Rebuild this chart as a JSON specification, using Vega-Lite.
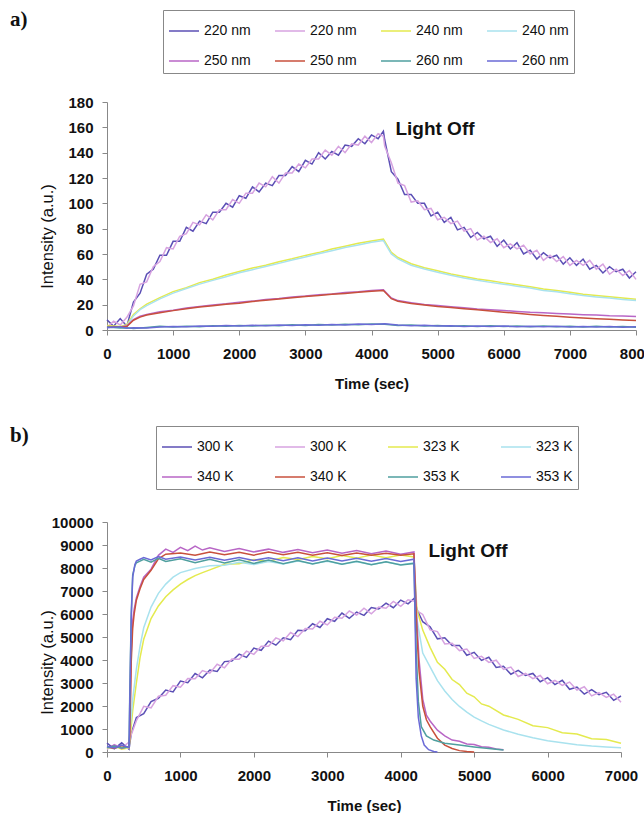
{
"$schema": "https://vega.github.io/schema/vega-lite/v6.json",
"background": "white",
"padding": {"left": 10, "top": 8, "right": 0, "bottom": 0},
"spacing": 33,
"resolve": {"scale": {"color": "independent"}, "legend": {"color": "independent"}},
"config": {
 "font": "Liberation Sans",
 "view": {"stroke": null},
 "axis": {"grid": false, "labelFont": "Liberation Sans", "labelFontSize": 15, "labelFontWeight": "bold", "labelColor": "#111", "labelOverlap": false, "labelFlush": false, "format": "d", "titleFont": "Liberation Sans", "titleColor": "#111", "titleFontSize": 15, "domainColor": "#888", "tickColor": "#888", "tickSize": 5, "labelPadding": 5},
 "axisX": {"titleFontWeight": "bold", "titlePadding": 15, "labelPadding": 11},
 "axisY": {"titleFontWeight": "normal", "titleFontSize": 16.5, "labelPadding": 9, "titleBaseline": "middle", "titleAlign": "center", "titleX": -60},
 "title": {"font": "Liberation Serif", "fontSize": 21, "fontWeight": "bold", "color": "#111", "anchor": "start", "frame": "group"},
 "legend": {"orient": "none", "columns": 4, "direction": "horizontal", "title": null, "symbolType": "stroke", "symbolSize": 900, "symbolStrokeWidth": 1.5, "labelFont": "Liberation Sans", "labelFontSize": 14, "labelColor": "#111", "labelOffset": 4, "rowPadding": 7, "padding": 5, "strokeColor": "#888", "fillColor": "white", "gridAlign": "all", "symbolLimit": 0}
},
"datasets": {
 "a": [
{"s":"220 nm","t":0,"v":8},{"s":"220 nm","t":100,"v":3},{"s":"220 nm","t":200,"v":9},{"s":"220 nm","t":300,"v":3},{"s":"220 nm","t":400,"v":22},{"s":"220 nm","t":500,"v":29},{"s":"220 nm","t":600,"v":44},{"s":"220 nm","t":700,"v":48},{"s":"220 nm","t":800,"v":59},{"s":"220 nm","t":900,"v":59},
{"s":"220 nm","t":1000,"v":70},{"s":"220 nm","t":1100,"v":70},{"s":"220 nm","t":1200,"v":81},{"s":"220 nm","t":1300,"v":78},{"s":"220 nm","t":1400,"v":86},{"s":"220 nm","t":1500,"v":84},{"s":"220 nm","t":1600,"v":93},{"s":"220 nm","t":1700,"v":93},{"s":"220 nm","t":1800,"v":100},{"s":"220 nm","t":1900,"v":97},
{"s":"220 nm","t":2000,"v":106},{"s":"220 nm","t":2100,"v":104},{"s":"220 nm","t":2200,"v":113},{"s":"220 nm","t":2300,"v":109},{"s":"220 nm","t":2400,"v":116},{"s":"220 nm","t":2500,"v":114},{"s":"220 nm","t":2600,"v":122},{"s":"220 nm","t":2700,"v":122},{"s":"220 nm","t":2800,"v":129},{"s":"220 nm","t":2900,"v":125},
{"s":"220 nm","t":3000,"v":134},{"s":"220 nm","t":3100,"v":131},{"s":"220 nm","t":3200,"v":140},{"s":"220 nm","t":3300,"v":135},{"s":"220 nm","t":3400,"v":141},{"s":"220 nm","t":3500,"v":138},{"s":"220 nm","t":3600,"v":146},{"s":"220 nm","t":3700,"v":145},{"s":"220 nm","t":3800,"v":151},{"s":"220 nm","t":3900,"v":147},
{"s":"220 nm","t":4000,"v":154},{"s":"220 nm","t":4100,"v":151},{"s":"220 nm","t":4180,"v":157},{"s":"220 nm","t":4200,"v":150},{"s":"220 nm","t":4300,"v":125},{"s":"220 nm","t":4400,"v":119},{"s":"220 nm","t":4500,"v":107},{"s":"220 nm","t":4600,"v":107},{"s":"220 nm","t":4700,"v":100},{"s":"220 nm","t":4800,"v":100},{"s":"220 nm","t":4900,"v":90},
{"s":"220 nm","t":5000,"v":93},{"s":"220 nm","t":5100,"v":85},{"s":"220 nm","t":5200,"v":89},{"s":"220 nm","t":5300,"v":79},{"s":"220 nm","t":5400,"v":81},{"s":"220 nm","t":5500,"v":73},{"s":"220 nm","t":5600,"v":77},{"s":"220 nm","t":5700,"v":72},{"s":"220 nm","t":5800,"v":74},{"s":"220 nm","t":5900,"v":66},
{"s":"220 nm","t":6000,"v":71},{"s":"220 nm","t":6100,"v":64},{"s":"220 nm","t":6200,"v":69},{"s":"220 nm","t":6300,"v":60},{"s":"220 nm","t":6400,"v":63},{"s":"220 nm","t":6500,"v":56},{"s":"220 nm","t":6600,"v":61},{"s":"220 nm","t":6700,"v":57},{"s":"220 nm","t":6800,"v":59},{"s":"220 nm","t":6900,"v":52},
{"s":"220 nm","t":7000,"v":57},{"s":"220 nm","t":7100,"v":51},{"s":"220 nm","t":7200,"v":56},{"s":"220 nm","t":7300,"v":48},{"s":"220 nm","t":7400,"v":51},{"s":"220 nm","t":7500,"v":45},{"s":"220 nm","t":7600,"v":50},{"s":"220 nm","t":7700,"v":46},{"s":"220 nm","t":7800,"v":48},{"s":"220 nm","t":7900,"v":41},{"s":"220 nm","t":8000,"v":46},
{"s":"220 nm*","t":0,"v":2},{"s":"220 nm*","t":100,"v":7},{"s":"220 nm*","t":200,"v":4},{"s":"220 nm*","t":300,"v":10},{"s":"220 nm*","t":400,"v":19},{"s":"220 nm*","t":500,"v":36},{"s":"220 nm*","t":600,"v":38},{"s":"220 nm*","t":700,"v":50},{"s":"220 nm*","t":800,"v":54},{"s":"220 nm*","t":900,"v":65},
{"s":"220 nm*","t":1000,"v":64},{"s":"220 nm*","t":1100,"v":74},{"s":"220 nm*","t":1200,"v":76},{"s":"220 nm*","t":1300,"v":85},{"s":"220 nm*","t":1400,"v":83},{"s":"220 nm*","t":1500,"v":91},{"s":"220 nm*","t":1600,"v":87},{"s":"220 nm*","t":1700,"v":95},{"s":"220 nm*","t":1800,"v":95},{"s":"220 nm*","t":1900,"v":103},
{"s":"220 nm*","t":2000,"v":100},{"s":"220 nm*","t":2100,"v":108},{"s":"220 nm*","t":2200,"v":108},{"s":"220 nm*","t":2300,"v":116},{"s":"220 nm*","t":2400,"v":113},{"s":"220 nm*","t":2500,"v":121},{"s":"220 nm*","t":2600,"v":116},{"s":"220 nm*","t":2700,"v":124},{"s":"220 nm*","t":2800,"v":124},{"s":"220 nm*","t":2900,"v":131},
{"s":"220 nm*","t":3000,"v":128},{"s":"220 nm*","t":3100,"v":135},{"s":"220 nm*","t":3200,"v":135},{"s":"220 nm*","t":3300,"v":142},{"s":"220 nm*","t":3400,"v":138},{"s":"220 nm*","t":3500,"v":145},{"s":"220 nm*","t":3600,"v":140},{"s":"220 nm*","t":3700,"v":147},{"s":"220 nm*","t":3800,"v":146},{"s":"220 nm*","t":3900,"v":153},
{"s":"220 nm*","t":4000,"v":148},{"s":"220 nm*","t":4100,"v":155},{"s":"220 nm*","t":4180,"v":153},{"s":"220 nm*","t":4200,"v":145},{"s":"220 nm*","t":4300,"v":132},{"s":"220 nm*","t":4400,"v":116},{"s":"220 nm*","t":4500,"v":114},{"s":"220 nm*","t":4600,"v":101},{"s":"220 nm*","t":4700,"v":102},{"s":"220 nm*","t":4800,"v":95},{"s":"220 nm*","t":4900,"v":96},
{"s":"220 nm*","t":5000,"v":87},{"s":"220 nm*","t":5100,"v":89},{"s":"220 nm*","t":5200,"v":84},{"s":"220 nm*","t":5300,"v":86},{"s":"220 nm*","t":5400,"v":78},{"s":"220 nm*","t":5500,"v":80},{"s":"220 nm*","t":5600,"v":71},{"s":"220 nm*","t":5700,"v":74},{"s":"220 nm*","t":5800,"v":69},{"s":"220 nm*","t":5900,"v":72},
{"s":"220 nm*","t":6000,"v":65},{"s":"220 nm*","t":6100,"v":68},{"s":"220 nm*","t":6200,"v":64},{"s":"220 nm*","t":6300,"v":67},{"s":"220 nm*","t":6400,"v":60},{"s":"220 nm*","t":6500,"v":63},{"s":"220 nm*","t":6600,"v":55},{"s":"220 nm*","t":6700,"v":59},{"s":"220 nm*","t":6800,"v":54},{"s":"220 nm*","t":6900,"v":58},
{"s":"220 nm*","t":7000,"v":51},{"s":"220 nm*","t":7100,"v":55},{"s":"220 nm*","t":7200,"v":51},{"s":"220 nm*","t":7300,"v":55},{"s":"220 nm*","t":7400,"v":48},{"s":"220 nm*","t":7500,"v":52},{"s":"220 nm*","t":7600,"v":44},{"s":"220 nm*","t":7700,"v":48},{"s":"220 nm*","t":7800,"v":43},{"s":"220 nm*","t":7900,"v":47},{"s":"220 nm*","t":8000,"v":40},
{"s":"240 nm","t":0,"v":3.5},{"s":"240 nm","t":200,"v":2.8},{"s":"240 nm","t":300,"v":4.2},{"s":"240 nm","t":400,"v":12.3},{"s":"240 nm","t":500,"v":16.8},{"s":"240 nm","t":600,"v":20.4},{"s":"240 nm","t":800,"v":25.6},{"s":"240 nm","t":1000,"v":30.3},{"s":"240 nm","t":1200,"v":33.4},{"s":"240 nm","t":1400,"v":37.4},{"s":"240 nm","t":1600,"v":40.1},{"s":"240 nm","t":1800,"v":43.4},{"s":"240 nm","t":2000,"v":46.2},{"s":"240 nm","t":2200,"v":48.9},{"s":"240 nm","t":2400,"v":51.1},{"s":"240 nm","t":2600,"v":53.9},{"s":"240 nm","t":2800,"v":56.2},{"s":"240 nm","t":3000,"v":58.9},{"s":"240 nm","t":3200,"v":61.1},{"s":"240 nm","t":3400,"v":63.9},{"s":"240 nm","t":3600,"v":66.2},{"s":"240 nm","t":3800,"v":68.4},{"s":"240 nm","t":4000,"v":70.2},{"s":"240 nm","t":4180,"v":71.8},{"s":"240 nm","t":4300,"v":61.3},{"s":"240 nm","t":4400,"v":57.2},{"s":"240 nm","t":4600,"v":52.3},{"s":"240 nm","t":4800,"v":49.2},{"s":"240 nm","t":5000,"v":46.8},{"s":"240 nm","t":5200,"v":44.2},{"s":"240 nm","t":5400,"v":42.3},{"s":"240 nm","t":5600,"v":40.2},{"s":"240 nm","t":5800,"v":38.8},{"s":"240 nm","t":6000,"v":37.2},{"s":"240 nm","t":6200,"v":35.8},{"s":"240 nm","t":6400,"v":34.2},{"s":"240 nm","t":6600,"v":32.3},{"s":"240 nm","t":6800,"v":31.2},{"s":"240 nm","t":7000,"v":29.8},{"s":"240 nm","t":7200,"v":28.2},{"s":"240 nm","t":7400,"v":27.3},{"s":"240 nm","t":7600,"v":26.2},{"s":"240 nm","t":7800,"v":25.3},{"s":"240 nm","t":8000,"v":24.2},
{"s":"240 nm*","t":0,"v":2.2},{"s":"240 nm*","t":200,"v":2.4},{"s":"240 nm*","t":300,"v":3.2},{"s":"240 nm*","t":400,"v":11.1},{"s":"240 nm*","t":500,"v":16.1},{"s":"240 nm*","t":600,"v":19.3},{"s":"240 nm*","t":800,"v":24.6},{"s":"240 nm*","t":1000,"v":29.1},{"s":"240 nm*","t":1200,"v":32.8},{"s":"240 nm*","t":1400,"v":36.2},{"s":"240 nm*","t":1600,"v":39.2},{"s":"240 nm*","t":1800,"v":42.1},{"s":"240 nm*","t":2000,"v":45.2},{"s":"240 nm*","t":2200,"v":47.6},{"s":"240 nm*","t":2400,"v":50.2},{"s":"240 nm*","t":2600,"v":52.6},{"s":"240 nm*","t":2800,"v":55.2},{"s":"240 nm*","t":3000,"v":57.6},{"s":"240 nm*","t":3200,"v":60.2},{"s":"240 nm*","t":3400,"v":62.6},{"s":"240 nm*","t":3600,"v":65.2},{"s":"240 nm*","t":3800,"v":67.1},{"s":"240 nm*","t":4000,"v":69.2},{"s":"240 nm*","t":4180,"v":70.6},{"s":"240 nm*","t":4300,"v":60.1},{"s":"240 nm*","t":4400,"v":56.2},{"s":"240 nm*","t":4600,"v":51.1},{"s":"240 nm*","t":4800,"v":48.2},{"s":"240 nm*","t":5000,"v":45.6},{"s":"240 nm*","t":5200,"v":43.2},{"s":"240 nm*","t":5400,"v":41.1},{"s":"240 nm*","t":5600,"v":39.2},{"s":"240 nm*","t":5800,"v":37.6},{"s":"240 nm*","t":6000,"v":36.2},{"s":"240 nm*","t":6200,"v":34.6},{"s":"240 nm*","t":6400,"v":33.2},{"s":"240 nm*","t":6600,"v":31.2},{"s":"240 nm*","t":6800,"v":30.2},{"s":"240 nm*","t":7000,"v":28.6},{"s":"240 nm*","t":7200,"v":27.2},{"s":"240 nm*","t":7400,"v":26.1},{"s":"240 nm*","t":7600,"v":25.2},{"s":"240 nm*","t":7800,"v":24.1},{"s":"240 nm*","t":8000,"v":23.2},
{"s":"250 nm","t":0,"v":2.8},{"s":"250 nm","t":200,"v":2.3},{"s":"250 nm","t":300,"v":3.3},{"s":"250 nm","t":400,"v":8.2},{"s":"250 nm","t":500,"v":10.8},{"s":"250 nm","t":600,"v":12.3},{"s":"250 nm","t":800,"v":14.4},{"s":"250 nm","t":1000,"v":15.6},{"s":"250 nm","t":1200,"v":17.4},{"s":"250 nm","t":1400,"v":18.6},{"s":"250 nm","t":1600,"v":19.8},{"s":"250 nm","t":1800,"v":20.7},{"s":"250 nm","t":2000,"v":21.9},{"s":"250 nm","t":2200,"v":22.8},{"s":"250 nm","t":2400,"v":24.1},{"s":"250 nm","t":2600,"v":24.9},{"s":"250 nm","t":2800,"v":26.1},{"s":"250 nm","t":3000,"v":26.8},{"s":"250 nm","t":3200,"v":27.9},{"s":"250 nm","t":3400,"v":28.5},{"s":"250 nm","t":3600,"v":29.6},{"s":"250 nm","t":3800,"v":30.2},{"s":"250 nm","t":4000,"v":31.2},{"s":"250 nm","t":4180,"v":31.8},{"s":"250 nm","t":4300,"v":25.3},{"s":"250 nm","t":4400,"v":23.2},{"s":"250 nm","t":4600,"v":21.6},{"s":"250 nm","t":4800,"v":20.2},{"s":"250 nm","t":5000,"v":19.3},{"s":"250 nm","t":5200,"v":18.4},{"s":"250 nm","t":5400,"v":17.5},{"s":"250 nm","t":5600,"v":16.6},{"s":"250 nm","t":5800,"v":16.0},{"s":"250 nm","t":6000,"v":15.3},{"s":"250 nm","t":6200,"v":14.7},{"s":"250 nm","t":6400,"v":14.0},{"s":"250 nm","t":6600,"v":13.6},{"s":"250 nm","t":6800,"v":13.0},{"s":"250 nm","t":7000,"v":12.6},{"s":"250 nm","t":7200,"v":12.1},{"s":"250 nm","t":7400,"v":11.8},{"s":"250 nm","t":7600,"v":11.3},{"s":"250 nm","t":7800,"v":11.1},{"s":"250 nm","t":8000,"v":10.7},
{"s":"250 nm*","t":0,"v":2.2},{"s":"250 nm*","t":200,"v":2.6},{"s":"250 nm*","t":300,"v":2.8},{"s":"250 nm*","t":400,"v":7.7},{"s":"250 nm*","t":500,"v":10.2},{"s":"250 nm*","t":600,"v":11.8},{"s":"250 nm*","t":800,"v":13.7},{"s":"250 nm*","t":1000,"v":15.3},{"s":"250 nm*","t":1200,"v":16.7},{"s":"250 nm*","t":1400,"v":18.2},{"s":"250 nm*","t":1600,"v":19.2},{"s":"250 nm*","t":1800,"v":20.3},{"s":"250 nm*","t":2000,"v":21.2},{"s":"250 nm*","t":2200,"v":22.5},{"s":"250 nm*","t":2400,"v":23.4},{"s":"250 nm*","t":2600,"v":24.5},{"s":"250 nm*","t":2800,"v":25.4},{"s":"250 nm*","t":3000,"v":26.5},{"s":"250 nm*","t":3200,"v":27.2},{"s":"250 nm*","t":3400,"v":28.2},{"s":"250 nm*","t":3600,"v":28.9},{"s":"250 nm*","t":3800,"v":29.8},{"s":"250 nm*","t":4000,"v":30.5},{"s":"250 nm*","t":4180,"v":31.2},{"s":"250 nm*","t":4300,"v":24.7},{"s":"250 nm*","t":4400,"v":22.7},{"s":"250 nm*","t":4600,"v":21.0},{"s":"250 nm*","t":4800,"v":19.7},{"s":"250 nm*","t":5000,"v":18.6},{"s":"250 nm*","t":5200,"v":17.8},{"s":"250 nm*","t":5400,"v":16.8},{"s":"250 nm*","t":5600,"v":15.9},{"s":"250 nm*","t":5800,"v":15.0},{"s":"250 nm*","t":6000,"v":14.1},{"s":"250 nm*","t":6200,"v":13.2},{"s":"250 nm*","t":6400,"v":12.3},{"s":"250 nm*","t":6600,"v":11.5},{"s":"250 nm*","t":6800,"v":10.8},{"s":"250 nm*","t":7000,"v":10.1},{"s":"250 nm*","t":7200,"v":9.5},{"s":"250 nm*","t":7400,"v":8.9},{"s":"250 nm*","t":7600,"v":8.4},{"s":"250 nm*","t":7800,"v":7.9},{"s":"250 nm*","t":8000,"v":7.5},
{"s":"260 nm","t":0,"v":2.4},{"s":"260 nm","t":200,"v":1.6},{"s":"260 nm","t":300,"v":1.8},{"s":"260 nm","t":400,"v":1.2},{"s":"260 nm","t":600,"v":2.0},{"s":"260 nm","t":800,"v":2.9},{"s":"260 nm","t":1000,"v":2.3},{"s":"260 nm","t":1200,"v":3.0},{"s":"260 nm","t":1400,"v":2.6},{"s":"260 nm","t":1600,"v":3.4},{"s":"260 nm","t":1800,"v":2.9},{"s":"260 nm","t":2000,"v":3.6},{"s":"260 nm","t":2200,"v":3.1},{"s":"260 nm","t":2400,"v":3.8},{"s":"260 nm","t":2600,"v":3.4},{"s":"260 nm","t":2800,"v":4.1},{"s":"260 nm","t":3000,"v":3.6},{"s":"260 nm","t":3200,"v":4.3},{"s":"260 nm","t":3400,"v":3.9},{"s":"260 nm","t":3600,"v":4.5},{"s":"260 nm","t":3800,"v":4.1},{"s":"260 nm","t":4000,"v":4.8},{"s":"260 nm","t":4200,"v":4.6},{"s":"260 nm","t":4400,"v":3.6},{"s":"260 nm","t":4600,"v":3.9},{"s":"260 nm","t":4800,"v":3.2},{"s":"260 nm","t":5000,"v":3.5},{"s":"260 nm","t":5200,"v":2.9},{"s":"260 nm","t":5400,"v":3.4},{"s":"260 nm","t":5600,"v":2.8},{"s":"260 nm","t":5800,"v":3.3},{"s":"260 nm","t":6000,"v":2.7},{"s":"260 nm","t":6200,"v":3.2},{"s":"260 nm","t":6400,"v":2.6},{"s":"260 nm","t":6600,"v":3.1},{"s":"260 nm","t":6800,"v":2.5},{"s":"260 nm","t":7000,"v":3.0},{"s":"260 nm","t":7200,"v":2.4},{"s":"260 nm","t":7400,"v":2.9},{"s":"260 nm","t":7600,"v":2.3},{"s":"260 nm","t":7800,"v":2.8},{"s":"260 nm","t":8000,"v":2.2},
{"s":"260 nm*","t":0,"v":1.8},{"s":"260 nm*","t":200,"v":2.5},{"s":"260 nm*","t":300,"v":1.4},{"s":"260 nm*","t":400,"v":1.8},{"s":"260 nm*","t":600,"v":1.6},{"s":"260 nm*","t":800,"v":2.4},{"s":"260 nm*","t":1000,"v":2.8},{"s":"260 nm*","t":1200,"v":2.5},{"s":"260 nm*","t":1400,"v":3.2},{"s":"260 nm*","t":1600,"v":2.9},{"s":"260 nm*","t":1800,"v":3.5},{"s":"260 nm*","t":2000,"v":3.1},{"s":"260 nm*","t":2200,"v":3.7},{"s":"260 nm*","t":2400,"v":3.3},{"s":"260 nm*","t":2600,"v":3.9},{"s":"260 nm*","t":2800,"v":3.6},{"s":"260 nm*","t":3000,"v":4.2},{"s":"260 nm*","t":3200,"v":3.8},{"s":"260 nm*","t":3400,"v":4.4},{"s":"260 nm*","t":3600,"v":4.0},{"s":"260 nm*","t":3800,"v":4.7},{"s":"260 nm*","t":4000,"v":4.3},{"s":"260 nm*","t":4200,"v":5.0},{"s":"260 nm*","t":4400,"v":3.9},{"s":"260 nm*","t":4600,"v":3.4},{"s":"260 nm*","t":4800,"v":3.7},{"s":"260 nm*","t":5000,"v":3.1},{"s":"260 nm*","t":5200,"v":3.4},{"s":"260 nm*","t":5400,"v":2.8},{"s":"260 nm*","t":5600,"v":3.2},{"s":"260 nm*","t":5800,"v":2.7},{"s":"260 nm*","t":6000,"v":3.1},{"s":"260 nm*","t":6200,"v":2.6},{"s":"260 nm*","t":6400,"v":3.0},{"s":"260 nm*","t":6600,"v":2.5},{"s":"260 nm*","t":6800,"v":2.9},{"s":"260 nm*","t":7000,"v":2.4},{"s":"260 nm*","t":7200,"v":2.8},{"s":"260 nm*","t":7400,"v":2.3},{"s":"260 nm*","t":7600,"v":2.7},{"s":"260 nm*","t":7800,"v":2.2},{"s":"260 nm*","t":8000,"v":2.6}
 ],
 "b": [
{"s":"300 K","t":0,"v":385},{"s":"300 K","t":100,"v":140},{"s":"300 K","t":200,"v":400},{"s":"300 K","t":300,"v":115},{"s":"300 K","t":330,"v":800},{"s":"300 K","t":400,"v":1495},{"s":"300 K","t":500,"v":1670},{"s":"300 K","t":600,"v":2190},{"s":"300 K","t":700,"v":2335},{"s":"300 K","t":800,"v":2695},{"s":"300 K","t":900,"v":2615},
{"s":"300 K","t":1000,"v":3085},{"s":"300 K","t":1100,"v":3010},{"s":"300 K","t":1200,"v":3410},{"s":"300 K","t":1300,"v":3225},{"s":"300 K","t":1400,"v":3565},{"s":"300 K","t":1500,"v":3500},{"s":"300 K","t":1600,"v":3930},{"s":"300 K","t":1700,"v":3955},{"s":"300 K","t":1800,"v":4255},{"s":"300 K","t":1900,"v":4115},
{"s":"300 K","t":2000,"v":4515},{"s":"300 K","t":2100,"v":4420},{"s":"300 K","t":2200,"v":4820},{"s":"300 K","t":2300,"v":4645},{"s":"300 K","t":2400,"v":4965},{"s":"300 K","t":2500,"v":4880},{"s":"300 K","t":2600,"v":5290},{"s":"300 K","t":2700,"v":5275},{"s":"300 K","t":2800,"v":5575},{"s":"300 K","t":2900,"v":5415},
{"s":"300 K","t":3000,"v":5795},{"s":"300 K","t":3100,"v":5680},{"s":"300 K","t":3200,"v":6040},{"s":"300 K","t":3300,"v":5815},{"s":"300 K","t":3400,"v":6085},{"s":"300 K","t":3500,"v":5940},{"s":"300 K","t":3600,"v":6280},{"s":"300 K","t":3700,"v":6215},{"s":"300 K","t":3800,"v":6475},{"s":"300 K","t":3900,"v":6275},
{"s":"300 K","t":4000,"v":6605},{"s":"300 K","t":4100,"v":6440},{"s":"300 K","t":4190,"v":6700},{"s":"300 K","t":4220,"v":6200},{"s":"300 K","t":4300,"v":5665},{"s":"300 K","t":4400,"v":5445},{"s":"300 K","t":4500,"v":4920},{"s":"300 K","t":4600,"v":4970},{"s":"300 K","t":4700,"v":4635},{"s":"300 K","t":4800,"v":4635},{"s":"300 K","t":4900,"v":4205},
{"s":"300 K","t":5000,"v":4335},{"s":"300 K","t":5100,"v":3980},{"s":"300 K","t":5200,"v":4120},{"s":"300 K","t":5300,"v":3675},{"s":"300 K","t":5400,"v":3725},{"s":"300 K","t":5500,"v":3380},{"s":"300 K","t":5600,"v":3550},{"s":"300 K","t":5700,"v":3325},{"s":"300 K","t":5800,"v":3415},{"s":"300 K","t":5900,"v":3055},
{"s":"300 K","t":6000,"v":3235},{"s":"300 K","t":6100,"v":2930},{"s":"300 K","t":6200,"v":3120},{"s":"300 K","t":6300,"v":2725},{"s":"300 K","t":6400,"v":2825},{"s":"300 K","t":6500,"v":2520},{"s":"300 K","t":6600,"v":2710},{"s":"300 K","t":6700,"v":2495},{"s":"300 K","t":6800,"v":2595},{"s":"300 K","t":6900,"v":2245},{"s":"300 K","t":7000,"v":2435},
{"s":"300 K*","t":0,"v":115},{"s":"300 K*","t":100,"v":320},{"s":"300 K*","t":200,"v":175},{"s":"300 K*","t":300,"v":430},{"s":"300 K*","t":330,"v":750},{"s":"300 K*","t":400,"v":1360},{"s":"300 K*","t":500,"v":1985},{"s":"300 K*","t":600,"v":1920},{"s":"300 K*","t":700,"v":2425},{"s":"300 K*","t":800,"v":2470},{"s":"300 K*","t":900,"v":2885},
{"s":"300 K*","t":1000,"v":2815},{"s":"300 K*","t":1100,"v":3190},{"s":"300 K*","t":1200,"v":3185},{"s":"300 K*","t":1300,"v":3540},{"s":"300 K*","t":1400,"v":3430},{"s":"300 K*","t":1500,"v":3815},{"s":"300 K*","t":1600,"v":3660},{"s":"300 K*","t":1700,"v":4045},{"s":"300 K*","t":1800,"v":4030},{"s":"300 K*","t":1900,"v":4385},
{"s":"300 K*","t":2000,"v":4245},{"s":"300 K*","t":2100,"v":4600},{"s":"300 K*","t":2200,"v":4595},{"s":"300 K*","t":2300,"v":4960},{"s":"300 K*","t":2400,"v":4830},{"s":"300 K*","t":2500,"v":5195},{"s":"300 K*","t":2600,"v":5020},{"s":"300 K*","t":2700,"v":5365},{"s":"300 K*","t":2800,"v":5350},{"s":"300 K*","t":2900,"v":5685},
{"s":"300 K*","t":3000,"v":5525},{"s":"300 K*","t":3100,"v":5860},{"s":"300 K*","t":3200,"v":5815},{"s":"300 K*","t":3300,"v":6130},{"s":"300 K*","t":3400,"v":5950},{"s":"300 K*","t":3500,"v":6255},{"s":"300 K*","t":3600,"v":6010},{"s":"300 K*","t":3700,"v":6305},{"s":"300 K*","t":3800,"v":6250},{"s":"300 K*","t":3900,"v":6545},
{"s":"300 K*","t":4000,"v":6335},{"s":"300 K*","t":4100,"v":6620},{"s":"300 K*","t":4190,"v":6550},{"s":"300 K*","t":4220,"v":6150},{"s":"300 K*","t":4300,"v":5980},{"s":"300 K*","t":4400,"v":5310},{"s":"300 K*","t":4500,"v":5235},{"s":"300 K*","t":4600,"v":4700},{"s":"300 K*","t":4700,"v":4725},{"s":"300 K*","t":4800,"v":4410},{"s":"300 K*","t":4900,"v":4475},
{"s":"300 K*","t":5000,"v":4065},{"s":"300 K*","t":5100,"v":4160},{"s":"300 K*","t":5200,"v":3895},{"s":"300 K*","t":5300,"v":3990},{"s":"300 K*","t":5400,"v":3590},{"s":"300 K*","t":5500,"v":3695},{"s":"300 K*","t":5600,"v":3280},{"s":"300 K*","t":5700,"v":3415},{"s":"300 K*","t":5800,"v":3190},{"s":"300 K*","t":5900,"v":3325},
{"s":"300 K*","t":6000,"v":2965},{"s":"300 K*","t":6100,"v":3110},{"s":"300 K*","t":6200,"v":2895},{"s":"300 K*","t":6300,"v":3040},{"s":"300 K*","t":6400,"v":2690},{"s":"300 K*","t":6500,"v":2835},{"s":"300 K*","t":6600,"v":2440},{"s":"300 K*","t":6700,"v":2585},{"s":"300 K*","t":6800,"v":2370},{"s":"300 K*","t":6900,"v":2515},{"s":"300 K*","t":7000,"v":2165},
{"s":"323 K","t":0,"v":150},{"s":"323 K","t":100,"v":260},{"s":"323 K","t":200,"v":120},{"s":"323 K","t":300,"v":180},{"s":"323 K","t":320,"v":800},{"s":"323 K","t":350,"v":1800},{"s":"323 K","t":400,"v":3000},{"s":"323 K","t":450,"v":4100},{"s":"323 K","t":500,"v":4900},{"s":"323 K","t":600,"v":5800},{"s":"323 K","t":700,"v":6350},{"s":"323 K","t":800,"v":6750},{"s":"323 K","t":900,"v":7050},{"s":"323 K","t":1000,"v":7300},{"s":"323 K","t":1100,"v":7500},{"s":"323 K","t":1200,"v":7670},{"s":"323 K","t":1300,"v":7800},{"s":"323 K","t":1400,"v":7920},{"s":"323 K","t":1600,"v":8160},{"s":"323 K","t":1800,"v":8180},{"s":"323 K","t":2000,"v":8370},{"s":"323 K","t":2200,"v":8290},{"s":"323 K","t":2400,"v":8460},{"s":"323 K","t":2600,"v":8370},{"s":"323 K","t":2800,"v":8500},{"s":"323 K","t":3000,"v":8400},{"s":"323 K","t":3200,"v":8540},{"s":"323 K","t":3400,"v":8430},{"s":"323 K","t":3600,"v":8560},{"s":"323 K","t":3800,"v":8450},{"s":"323 K","t":4000,"v":8570},{"s":"323 K","t":4180,"v":8480},{"s":"323 K","t":4220,"v":6200},{"s":"323 K","t":4300,"v":5300},{"s":"323 K","t":4400,"v":4550},{"s":"323 K","t":4500,"v":3900},{"s":"323 K","t":4600,"v":3600},{"s":"323 K","t":4700,"v":3150},{"s":"323 K","t":4800,"v":2930},{"s":"323 K","t":4900,"v":2560},{"s":"323 K","t":5000,"v":2400},{"s":"323 K","t":5100,"v":2090},{"s":"323 K","t":5200,"v":1990},{"s":"323 K","t":5400,"v":1610},{"s":"323 K","t":5600,"v":1420},{"s":"323 K","t":5800,"v":1140},{"s":"323 K","t":6000,"v":1060},{"s":"323 K","t":6200,"v":840},{"s":"323 K","t":6400,"v":780},{"s":"323 K","t":6600,"v":580},{"s":"323 K","t":6800,"v":540},{"s":"323 K","t":7000,"v":380},
{"s":"323 K*","t":0,"v":200},{"s":"323 K*","t":100,"v":140},{"s":"323 K*","t":200,"v":260},{"s":"323 K*","t":300,"v":160},{"s":"323 K*","t":320,"v":1200},{"s":"323 K*","t":350,"v":2300},{"s":"323 K*","t":400,"v":3600},{"s":"323 K*","t":450,"v":4600},{"s":"323 K*","t":500,"v":5400},{"s":"323 K*","t":600,"v":6300},{"s":"323 K*","t":700,"v":6900},{"s":"323 K*","t":800,"v":7300},{"s":"323 K*","t":900,"v":7600},{"s":"323 K*","t":1000,"v":7800},{"s":"323 K*","t":1200,"v":7980},{"s":"323 K*","t":1400,"v":8100},{"s":"323 K*","t":1600,"v":8120},{"s":"323 K*","t":1800,"v":8250},{"s":"323 K*","t":2000,"v":8150},{"s":"323 K*","t":2200,"v":8280},{"s":"323 K*","t":2400,"v":8170},{"s":"323 K*","t":2600,"v":8300},{"s":"323 K*","t":2800,"v":8180},{"s":"323 K*","t":3000,"v":8290},{"s":"323 K*","t":3200,"v":8160},{"s":"323 K*","t":3400,"v":8270},{"s":"323 K*","t":3600,"v":8150},{"s":"323 K*","t":3800,"v":8260},{"s":"323 K*","t":4000,"v":8140},{"s":"323 K*","t":4180,"v":8220},{"s":"323 K*","t":4220,"v":5800},{"s":"323 K*","t":4300,"v":4300},{"s":"323 K*","t":4400,"v":3700},{"s":"323 K*","t":4500,"v":3100},{"s":"323 K*","t":4600,"v":2650},{"s":"323 K*","t":4700,"v":2280},{"s":"323 K*","t":4800,"v":1980},{"s":"323 K*","t":4900,"v":1730},{"s":"323 K*","t":5000,"v":1520},{"s":"323 K*","t":5100,"v":1350},{"s":"323 K*","t":5200,"v":1200},{"s":"323 K*","t":5400,"v":960},{"s":"323 K*","t":5600,"v":770},{"s":"323 K*","t":5800,"v":620},{"s":"323 K*","t":6000,"v":490},{"s":"323 K*","t":6200,"v":400},{"s":"323 K*","t":6400,"v":320},{"s":"323 K*","t":6600,"v":260},{"s":"323 K*","t":6800,"v":220},{"s":"323 K*","t":7000,"v":190},
{"s":"340 K","t":0,"v":180},{"s":"340 K","t":100,"v":300},{"s":"340 K","t":200,"v":150},{"s":"340 K","t":300,"v":240},{"s":"340 K","t":310,"v":800},{"s":"340 K","t":330,"v":4300},{"s":"340 K","t":350,"v":5700},{"s":"340 K","t":370,"v":6200},{"s":"340 K","t":400,"v":6700},{"s":"340 K","t":450,"v":7200},{"s":"340 K","t":500,"v":7600},{"s":"340 K","t":600,"v":7950},{"s":"340 K","t":700,"v":8550},{"s":"340 K","t":800,"v":8820},{"s":"340 K","t":900,"v":8680},{"s":"340 K","t":1000,"v":8900},{"s":"340 K","t":1100,"v":8750},{"s":"340 K","t":1200,"v":8950},{"s":"340 K","t":1300,"v":8780},{"s":"340 K","t":1400,"v":8880},{"s":"340 K","t":1600,"v":8720},{"s":"340 K","t":1800,"v":8850},{"s":"340 K","t":2000,"v":8700},{"s":"340 K","t":2200,"v":8820},{"s":"340 K","t":2400,"v":8680},{"s":"340 K","t":2600,"v":8800},{"s":"340 K","t":2800,"v":8660},{"s":"340 K","t":3000,"v":8780},{"s":"340 K","t":3200,"v":8640},{"s":"340 K","t":3400,"v":8760},{"s":"340 K","t":3600,"v":8620},{"s":"340 K","t":3800,"v":8740},{"s":"340 K","t":4000,"v":8600},{"s":"340 K","t":4180,"v":8700},{"s":"340 K","t":4220,"v":5700},{"s":"340 K","t":4250,"v":4000},{"s":"340 K","t":4300,"v":2300},{"s":"340 K","t":4350,"v":1600},{"s":"340 K","t":4400,"v":1350},{"s":"340 K","t":4500,"v":950},{"s":"340 K","t":4600,"v":700},{"s":"340 K","t":4700,"v":520},{"s":"340 K","t":4800,"v":470},{"s":"340 K","t":4900,"v":350},{"s":"340 K","t":5000,"v":330},{"s":"340 K","t":5100,"v":230},{"s":"340 K","t":5200,"v":210},{"s":"340 K","t":5300,"v":130},{"s":"340 K","t":5400,"v":100},
{"s":"340 K*","t":0,"v":220},{"s":"340 K*","t":100,"v":150},{"s":"340 K*","t":200,"v":280},{"s":"340 K*","t":300,"v":180},{"s":"340 K*","t":310,"v":700},{"s":"340 K*","t":330,"v":3900},{"s":"340 K*","t":350,"v":5400},{"s":"340 K*","t":370,"v":6000},{"s":"340 K*","t":400,"v":6600},{"s":"340 K*","t":450,"v":7100},{"s":"340 K*","t":500,"v":7500},{"s":"340 K*","t":600,"v":7900},{"s":"340 K*","t":700,"v":8400},{"s":"340 K*","t":800,"v":8600},{"s":"340 K*","t":1000,"v":8650},{"s":"340 K*","t":1200,"v":8550},{"s":"340 K*","t":1400,"v":8700},{"s":"340 K*","t":1600,"v":8580},{"s":"340 K*","t":1800,"v":8680},{"s":"340 K*","t":2000,"v":8560},{"s":"340 K*","t":2200,"v":8700},{"s":"340 K*","t":2400,"v":8580},{"s":"340 K*","t":2600,"v":8680},{"s":"340 K*","t":2800,"v":8560},{"s":"340 K*","t":3000,"v":8660},{"s":"340 K*","t":3200,"v":8540},{"s":"340 K*","t":3400,"v":8650},{"s":"340 K*","t":3600,"v":8560},{"s":"340 K*","t":3800,"v":8640},{"s":"340 K*","t":4000,"v":8550},{"s":"340 K*","t":4180,"v":8620},{"s":"340 K*","t":4220,"v":5200},{"s":"340 K*","t":4250,"v":3500},{"s":"340 K*","t":4300,"v":2000},{"s":"340 K*","t":4350,"v":1400},{"s":"340 K*","t":4400,"v":1100},{"s":"340 K*","t":4500,"v":600},{"s":"340 K*","t":4600,"v":300},{"s":"340 K*","t":4700,"v":150},{"s":"340 K*","t":4800,"v":60},{"s":"340 K*","t":4900,"v":20},{"s":"340 K*","t":5000,"v":0},
{"s":"353 K","t":0,"v":200},{"s":"353 K","t":100,"v":260},{"s":"353 K","t":200,"v":170},{"s":"353 K","t":300,"v":220},{"s":"353 K","t":310,"v":2500},{"s":"353 K","t":330,"v":6000},{"s":"353 K","t":350,"v":7700},{"s":"353 K","t":380,"v":8100},{"s":"353 K","t":400,"v":8230},{"s":"353 K","t":450,"v":8300},{"s":"353 K","t":500,"v":8380},{"s":"353 K","t":600,"v":8250},{"s":"353 K","t":700,"v":8420},{"s":"353 K","t":800,"v":8280},{"s":"353 K","t":1000,"v":8400},{"s":"353 K","t":1200,"v":8230},{"s":"353 K","t":1400,"v":8380},{"s":"353 K","t":1600,"v":8220},{"s":"353 K","t":1800,"v":8360},{"s":"353 K","t":2000,"v":8200},{"s":"353 K","t":2200,"v":8350},{"s":"353 K","t":2400,"v":8190},{"s":"353 K","t":2600,"v":8330},{"s":"353 K","t":2800,"v":8180},{"s":"353 K","t":3000,"v":8310},{"s":"353 K","t":3200,"v":8160},{"s":"353 K","t":3400,"v":8290},{"s":"353 K","t":3600,"v":8140},{"s":"353 K","t":3800,"v":8270},{"s":"353 K","t":4000,"v":8130},{"s":"353 K","t":4180,"v":8200},{"s":"353 K","t":4210,"v":4500},{"s":"353 K","t":4240,"v":2200},{"s":"353 K","t":4280,"v":1100},{"s":"353 K","t":4350,"v":700},{"s":"353 K","t":4450,"v":520},{"s":"353 K","t":4600,"v":380},{"s":"353 K","t":4800,"v":300},{"s":"353 K","t":5000,"v":220},{"s":"353 K","t":5200,"v":150},{"s":"353 K","t":5400,"v":90},
{"s":"353 K*","t":0,"v":250},{"s":"353 K*","t":100,"v":180},{"s":"353 K*","t":200,"v":300},{"s":"353 K*","t":300,"v":200},{"s":"353 K*","t":310,"v":2200},{"s":"353 K*","t":330,"v":5800},{"s":"353 K*","t":350,"v":7600},{"s":"353 K*","t":380,"v":8150},{"s":"353 K*","t":400,"v":8300},{"s":"353 K*","t":450,"v":8380},{"s":"353 K*","t":500,"v":8450},{"s":"353 K*","t":600,"v":8350},{"s":"353 K*","t":700,"v":8500},{"s":"353 K*","t":800,"v":8380},{"s":"353 K*","t":1000,"v":8480},{"s":"353 K*","t":1200,"v":8350},{"s":"353 K*","t":1400,"v":8470},{"s":"353 K*","t":1600,"v":8340},{"s":"353 K*","t":1800,"v":8460},{"s":"353 K*","t":2000,"v":8330},{"s":"353 K*","t":2200,"v":8450},{"s":"353 K*","t":2400,"v":8320},{"s":"353 K*","t":2600,"v":8440},{"s":"353 K*","t":2800,"v":8310},{"s":"353 K*","t":3000,"v":8430},{"s":"353 K*","t":3200,"v":8300},{"s":"353 K*","t":3400,"v":8420},{"s":"353 K*","t":3600,"v":8290},{"s":"353 K*","t":3800,"v":8410},{"s":"353 K*","t":4000,"v":8280},{"s":"353 K*","t":4180,"v":8380},{"s":"353 K*","t":4210,"v":3200},{"s":"353 K*","t":4240,"v":1500},{"s":"353 K*","t":4280,"v":700},{"s":"353 K*","t":4320,"v":300},{"s":"353 K*","t":4380,"v":100},{"s":"353 K*","t":4450,"v":20},{"s":"353 K*","t":4500,"v":0}
 ]
},
"vconcat": [
 {
  "title": {"text": "a)", "dx": -97, "dy": 24},
  "width": 529,
  "height": 228,
  "encoding": {
   "x": {"field": "t", "type": "quantitative", "scale": {"domain": [0, 8000], "nice": false}, "axis": {"values": [0,1000,2000,3000,4000,5000,6000,7000,8000], "tickCount": 30, "title": "Time (sec)", "labelOverlap": false, "labelFlush": false}},
   "y": {"field": "v", "type": "quantitative", "scale": {"domain": [0, 180], "nice": false}, "axis": {"values": [0,20,40,60,80,100,120,140,160,180], "tickCount": 30, "title": "Intensity (a.u.)", "titleY": 134, "labelOverlap": false, "labelFlush": false}}
  },
  "layer": [
   {
    "data": {"name": "a"},
    "mark": {"type": "line", "strokeWidth": 1.5},
    "encoding": {
     "color": {"field": "s", "type": "nominal",
      "scale": {"domain": ["220 nm","220 nm*","240 nm","240 nm*","250 nm","250 nm*","260 nm","260 nm*"], "range": ["#5b4fb5","#d7a3e0","#e4ea4e","#a9e2ee","#b866c6","#c8503c","#4f9f9f","#6a6ad6"]},
      "legend": {"legendX": 56, "legendY": -92, "columnPadding": 21, "labelExpr": "replace(datum.label, '*', '')"}}
    }
   },
   {
    "data": {"values": [{"t": 4960, "v": 159, "label": "Light Off"}]},
    "mark": {"type": "text", "font": "Liberation Sans", "fontSize": 19, "fontWeight": "bold", "color": "#111", "align": "center", "baseline": "middle"},
    "encoding": {
     "text": {"field": "label", "type": "nominal"}
    }
   }
  ]
 },
 {
  "title": {"text": "b)", "dx": -97, "dy": 24},
  "width": 514,
  "height": 230,
  "encoding": {
   "x": {"field": "t", "type": "quantitative", "scale": {"domain": [0, 7000], "nice": false}, "axis": {"values": [0,1000,2000,3000,4000,5000,6000,7000], "tickCount": 30, "title": "Time (sec)", "labelOverlap": false, "labelFlush": false}},
   "y": {"field": "v", "type": "quantitative", "scale": {"domain": [0, 10000], "nice": false}, "axis": {"values": [0,1000,2000,3000,4000,5000,6000,7000,8000,9000,10000], "tickCount": 30, "title": "Intensity (a.u.)", "titleY": 140, "labelOverlap": false, "labelFlush": false}}
  },
  "layer": [
   {
    "data": {"name": "b"},
    "mark": {"type": "line", "strokeWidth": 1.5},
    "encoding": {
     "color": {"field": "s", "type": "nominal",
      "scale": {"domain": ["300 K","300 K*","323 K","323 K*","340 K","340 K*","353 K","353 K*"], "range": ["#5b4fb5","#d7a3e0","#e4ea4e","#a9e2ee","#b866c6","#c8503c","#4f9f9f","#6a6ad6"]},
      "legend": {"legendX": 49, "legendY": -96, "columnPadding": 38, "labelExpr": "replace(datum.label, '*', '')"}}
    }
   },
   {
    "data": {"values": [{"t": 4917, "v": 8750, "label": "Light Off"}]},
    "mark": {"type": "text", "font": "Liberation Sans", "fontSize": 19, "fontWeight": "bold", "color": "#111", "align": "center", "baseline": "middle"},
    "encoding": {
     "text": {"field": "label", "type": "nominal"}
    }
   }
  ]
 }
]
}
